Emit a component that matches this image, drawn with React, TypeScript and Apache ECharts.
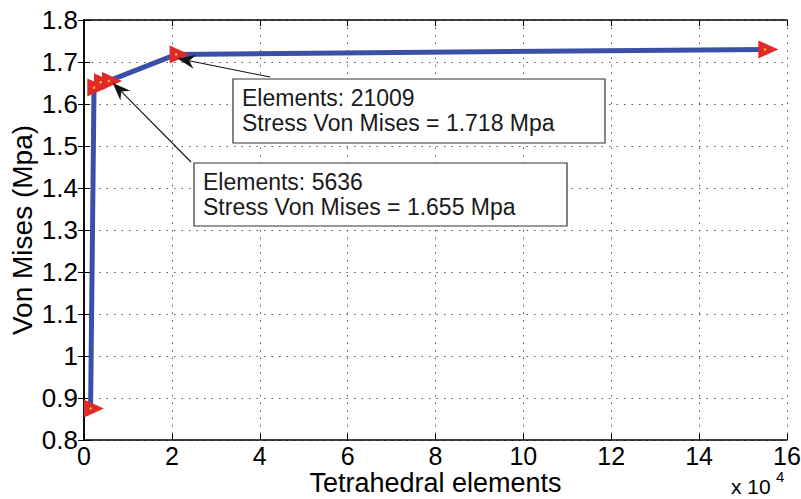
import React, { useEffect, useRef } from "react";
import * as echarts from "echarts";

// ---- data ----
const elements = [1500, 2280, 3800, 5636, 21009, 155000];
const stress = [0.875, 1.639, 1.652, 1.655, 1.718, 1.73];
const xTickValues = [0, 2, 4, 6, 8, 10, 12, 14, 16]; // x 10^4
const yTickLabels = ["0.8", "0.9", "1", "1.1", "1.2", "1.3", "1.4", "1.5", "1.6", "1.7", "1.8"];
const annotationIndex = [4, 3];
const annotationLines = [
  ["Elements: 21009", "Stress Von Mises = 1.718 Mpa"],
  ["Elements: 5636", "Stress Von Mises = 1.655 Mpa"],
];

// ---- layout (pixels) ----
const boxes = [
  { x: 233, y: 79, w: 372, h: 64, tail: [270, 77], tipOff: [1, 4] },
  { x: 194, y: 163, w: 373, h: 63, tail: [191, 162], tipOff: [4, 2] },
];
const FONT = '"Liberation Sans", Arial, Helvetica, sans-serif';

export default function App() {
  const ref = useRef<HTMLDivElement>(null);
  useEffect(() => {
    if (!ref.current) return;
    const chart = echarts.init(ref.current, undefined, { renderer: "svg" });
    const data = elements.map((e, i) => [e, stress[i]]);
    const dotted = { show: true, lineStyle: { color: "#555", width: 1, type: [1.5, 6] as any } };
    const common = {
      type: "value" as const,
      axisLine: { show: true, lineStyle: { color: "#000", width: 1.5 } },
      axisTick: { show: true, inside: true, length: 6, lineStyle: { color: "#000", width: 1 } },
    };
    chart.setOption({
      animation: false,
      backgroundColor: "#fff",
      grid: {
        left: 84,
        right: 14,
        top: 20,
        bottom: 59,
        containLabel: false,
        outerBoundsMode: "none",
      } as any,
      xAxis: [
        {
          ...common,
          position: "bottom",
          min: 0,
          max: 160000,
          interval: 20000,
          splitLine: dotted,
          axisLabel: {
            color: "#000",
            fontSize: 25,
            fontFamily: FONT,
            margin: 3,
            formatter: (v: number) => String(xTickValues[Math.round(v / 20000)] ?? v / 10000),
          },
          name: "Tetrahedral elements",
          nameLocation: "middle",
          nameGap: 29,
          nameMoveOverlap: false,
          nameTextStyle: { color: "#000", fontSize: 27, fontFamily: FONT },
        } as any,
        {
          ...common,
          position: "top",
          min: 0,
          max: 160000,
          interval: 20000,
          splitLine: { show: false },
          axisLabel: { show: false },
        },
      ],
      yAxis: [
        {
          ...common,
          position: "left",
          min: 0.8,
          max: 1.8,
          interval: 0.1,
          splitLine: dotted,
          axisLabel: {
            color: "#000",
            fontSize: 26,
            fontFamily: FONT,
            margin: 6,
            formatter: (v: number) => yTickLabels[Math.round((v - 0.8) / 0.1)] ?? String(v),
          },
          name: "Von Mises (Mpa)",
          nameLocation: "middle",
          nameGap: 48,
          nameMoveOverlap: false,
          nameTextStyle: { color: "#000", fontSize: 28, fontFamily: FONT },
        } as any,
        {
          ...common,
          position: "right",
          min: 0.8,
          max: 1.8,
          interval: 0.1,
          splitLine: { show: false },
          axisLabel: { show: false },
        },
      ],
      series: [
        {
          type: "line",
          data,
          lineStyle: { color: "#3a50a8", width: 5 },
          symbol: "path://M0,0L1,0.5L0,1Z",
          symbolSize: [20, 18],
          symbolKeepAspect: false,
          symbolOffset: [3.3, 0],
          itemStyle: { color: "#e02a2a" },
          z: 3,
        },
        {
          type: "scatter",
          data,
          symbol: "circle",
          symbolSize: 2.5,
          itemStyle: { color: "#f5e31a" },
          z: 4,
          silent: true,
        },
      ],
    });

    const graphics: any[] = [];
    boxes.forEach((b, k) => {
      const idx = annotationIndex[k];
      const p = chart.convertToPixel({ xAxisIndex: 0, yAxisIndex: 0 }, [elements[idx], stress[idx]]) as number[];
      const tip = [p[0] + b.tipOff[0], p[1] + b.tipOff[1]];
      const tail = b.tail;
      const dx = tip[0] - tail[0];
      const dy = tip[1] - tail[1];
      const len = Math.hypot(dx, dy);
      const ux = dx / len, uy = dy / len;
      const nx = -uy, ny = ux;
      const L = 18, W = 7, notch = 6;
      const back = [tip[0] - ux * L, tip[1] - uy * L];
      const mid = [tip[0] - ux * (L - notch), tip[1] - uy * (L - notch)];
      graphics.push({
        type: "line",
        shape: { x1: tail[0], y1: tail[1], x2: mid[0], y2: mid[1] },
        style: { stroke: "#111", lineWidth: 1.1 },
        z: 10,
      });
      graphics.push({
        type: "polygon",
        shape: {
          points: [
            tip,
            [back[0] + nx * W, back[1] + ny * W],
            mid,
            [back[0] - nx * W, back[1] - ny * W],
          ],
        },
        style: { fill: "#111" },
        z: 10,
      });
      graphics.push({
        type: "rect",
        shape: { x: b.x, y: b.y, width: b.w, height: b.h },
        style: { fill: "#fff", stroke: "#333", lineWidth: 1.2 },
        z: 10,
      });
      graphics.push({
        type: "text",
        x: b.x + 9,
        y: b.y + 6,
        style: {
          text: annotationLines[k].join("\n"),
          font: `23px ${FONT}`,
          fill: "#1a1a1a",
          lineHeight: 25,
          textVerticalAlign: "top",
        },
        z: 11,
      });
    });
    graphics.push({
      type: "text",
      x: 731,
      y: 476,
      style: { text: "x 10", font: `21px ${FONT}`, fill: "#000", textVerticalAlign: "top" },
      z: 11,
    });
    graphics.push({
      type: "text",
      x: 776,
      y: 469,
      style: { text: "4", font: `15px ${FONT}`, fill: "#000", textVerticalAlign: "top" },
      z: 11,
    });
    chart.setOption({ graphic: graphics });

    return () => chart.dispose();
  }, []);
  return (
    <div
      ref={ref}
      style={{ position: "fixed", left: 0, top: 0, width: 801, height: 499, background: "#fff" }}
    />
  );
}
